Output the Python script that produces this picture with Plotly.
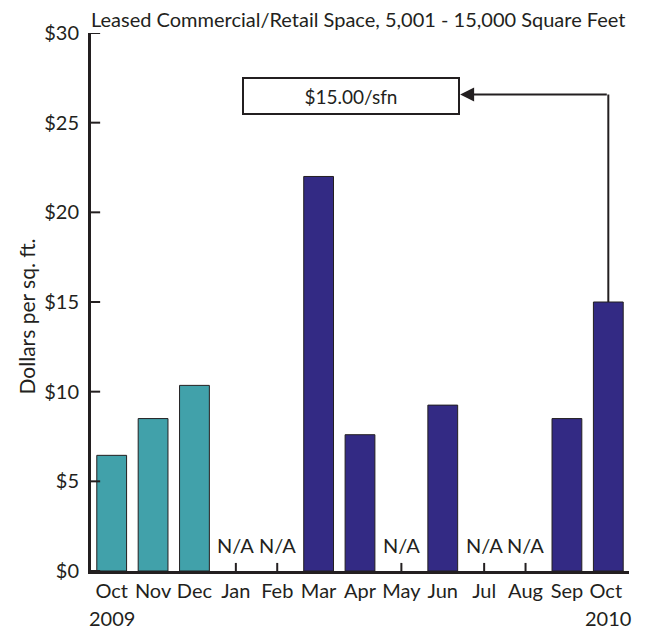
import plotly.graph_objects as go

months = ["Oct", "Nov", "Dec", "Jan", "Feb", "Mar", "Apr", "May", "Jun", "Jul", "Aug", "Sep", "Oct "]
years = ["2009", "", "", "", "", "", "", "", "", "", "", "", "2010"]
values = [6.45, 8.5, 10.35, None, None, 22.0, 7.6, None, 9.25, None, None, 8.5, 15.0]
year_group = ["2009", "2009", "2009", "2010", "2010", "2010", "2010", "2010", "2010", "2010", "2010", "2010", "2010"]
y_ticks = [0, 5, 10, 15, 20, 25, 30]
y_ticktext = ["$0", "$5", "$10", "$15", "$20", "$25", "$30"]
callout_text = "$15.00/sfn"
title_text = "Leased Commercial/Retail Space, 5,001 - 15,000 Square Feet"
ytitle = "Dollars per sq. ft."

TEAL = "#41A1AA"
NAVY = "#332A84"
INK = "#231F20"
FONT = "Lato"
FS = 20

colors = [TEAL if g == "2009" else NAVY for g in year_group]
xs = list(range(len(months)))
na_x = [i for i, v in enumerate(values) if v is None]

fig = go.Figure()
fig.add_trace(go.Bar(
    x=xs, y=values,
    marker=dict(color=colors, line=dict(color=INK, width=1)),
    hoverinfo="skip",
))

annotations = []
for i in na_x:
    annotations.append(dict(x=i, y=0, xref="x", yref="y", text="N/A", showarrow=False,
                            yanchor="bottom", yshift=12, font=dict(family=FONT, size=FS, color=INK)))
for i, yr in enumerate(years):
    if yr:
        annotations.append(dict(x=i, y=-0.087, xref="x", yref="paper", text=yr, showarrow=False,
                                xanchor="center", yanchor="middle", font=dict(family=FONT, size=FS, color=INK)))

# callout box
annotations.append(dict(x=5.78, y=26.48, xref="x", yref="y", text=callout_text, showarrow=False,
                        xanchor="center", yanchor="middle",
                        bordercolor=INK, borderwidth=2, bgcolor="white", borderpad=3,
                        width=208, height=28, font=dict(family=FONT, size=19, color=INK)))
# arrow into callout
arrow_y = 26.57
annotations.append(dict(x=8.42, y=arrow_y, xref="x", yref="y", ax=12, ay=arrow_y, axref="x", ayref="y",
                        text="", showarrow=True, arrowhead=2, arrowsize=1.4, arrowwidth=2, arrowcolor=INK))
# y-axis title
annotations.append(dict(x=-0.119, y=0.473, xref="paper", yref="paper", text=ytitle, showarrow=False,
                        xanchor="center", yanchor="middle",
                        textangle=-90, font=dict(family=FONT, size=21, color=INK)))

shapes = [dict(type="line", xref="x", yref="y", x0=12, x1=12, y0=values[-1], y1=arrow_y,
               line=dict(color=INK, width=2))]
# inside tick marks on the y axis
for t in y_ticks:
    shapes.append(dict(type="line", xref="paper", yref="y", x0=0, x1=0.017, y0=t, y1=t,
                       line=dict(color=INK, width=2)))
# inside tick marks on the x axis at the N/A months (bars hide the others)
for i in na_x:
    shapes.append(dict(type="line", xref="x", yref="paper", x0=i, x1=i, y0=0, y1=0.015,
                       line=dict(color=INK, width=2)))

fig.update_layout(
    width=639, height=623,
    margin=dict(l=83, r=18, t=23, b=60),
    plot_bgcolor="white", paper_bgcolor="white",
    bargap=0.28, showlegend=False,
    title=dict(text=title_text, x=0.0, xref="paper", xanchor="left", y=0.9805, yref="container",
               yanchor="middle", font=dict(family=FONT, size=20, color=INK)),
    annotations=annotations, shapes=shapes,
    font=dict(family=FONT, color=INK),
)
fig.update_xaxes(
    range=[-0.5, 12.5], tickmode="array", tickvals=xs, ticktext=months,
    showline=True, linecolor=INK, linewidth=3, showgrid=False, zeroline=False,
    ticks="", tickfont=dict(family=FONT, size=FS, color=INK), ticklabelstandoff=0,
)
fig.update_yaxes(
    range=[0, 30], tickmode="array", tickvals=y_ticks, ticktext=y_ticktext,
    showline=True, linecolor=INK, linewidth=3, showgrid=False, zeroline=False,
    ticks="", tickfont=dict(family=FONT, size=FS, color=INK), ticklabelstandoff=5,
)

fig.write_html("out.html")
